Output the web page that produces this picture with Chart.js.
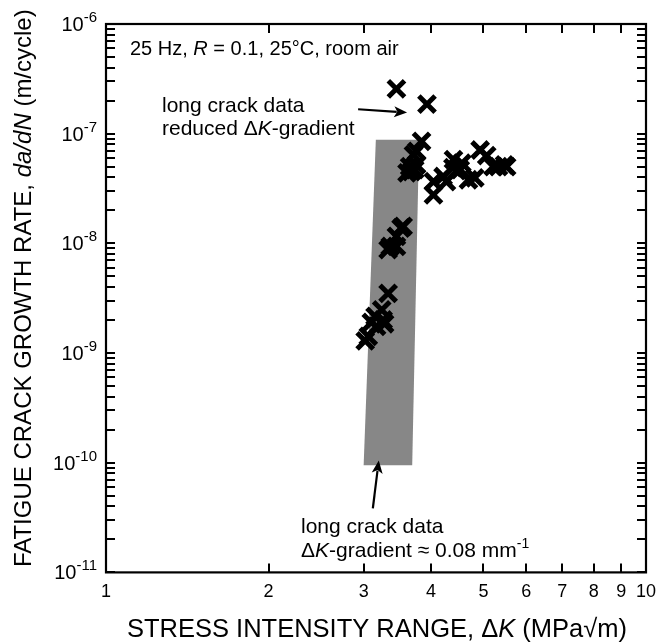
<!DOCTYPE html>
<html>
<head>
<meta charset="utf-8">
<script src="https://cdn.jsdelivr.net/npm/chart.js@4/dist/chart.umd.min.js"></script>
<style>
    html, body { margin: 0; padding: 0; background: #fff; }
    #wrap { width: 670px; height: 643px; }
</style>
</head>
<body>
<div id="wrap"><canvas id="fcgChart" width="670" height="643"></canvas></div>
<script>
// measured points: stress intensity range (MPa sqrt m) and da/dN (m/cycle)
var deltaK = [3.45, 3.93,
    3.84, 3.76, 3.71, 3.65, 3.61, 3.73, 3.76, 3.68,
    4.04, 4.04, 4.21, 4.27, 4.40, 4.46, 4.56, 4.53, 4.69, 4.82, 4.39,
    4.93, 5.07, 5.21, 5.33, 5.47, 5.52,
    3.55, 3.52, 3.45, 3.45, 3.36, 3.33,
    3.33, 3.24, 3.15, 3.26, 3.17, 3.06, 3.02, 3.10, 3.28];
var dadN = [2.56e-7, 1.86e-7,
    8.5e-8, 6.9e-8, 6.4e-8, 5.0e-8, 4.4e-8, 4.7e-8, 5.2e-8, 4.5e-8,
    3.66e-8, 2.77e-8, 4.07e-8, 3.66e-8, 5.8e-8, 4.6e-8, 5.4e-8, 4.7e-8, 3.8e-8, 3.96e-8, 4.9e-8,
    7.1e-8, 6.3e-8, 5.0e-8, 5.0e-8, 5.2e-8, 5.0e-8,
    1.43e-8, 1.38e-8, 1.16e-8, 9.4e-9, 9.4e-9, 8.75e-9,
    3.5e-9, 2.48e-9, 2.16e-9, 2.0e-9, 1.75e-9, 1.42e-9, 1.29e-9, 1.9e-9, 1.85e-9];

// grey band: long crack data, dK-gradient 0.08 /mm
var bandK = [3.0, 3.16, 3.80, 3.69, 3.0];
var bandRate = [9.5e-11, 8.8e-8, 8.8e-8, 9.5e-11, 9.5e-11];

var xTickValues = [1, 2, 3, 4, 5, 6, 7, 8, 9, 10];
var yDecades = [-11, -10, -9, -8, -7, -6];

// arrows [tail, tip] in data units
var arrowUpper = [[2.93, 1.67e-7], [3.61, 1.56e-7]];
var arrowLower = [[3.12, 3.83e-11], [3.20, 1.05e-10]];

var FONT = '"Liberation Sans", Arial, sans-serif';

function toXY(xs, ys) {
    return xs.map(function (x, i) { return {x: x, y: ys[i]}; });
}

// draw a line of text made of runs with their own font / offset
function drawRuns(ctx, x, y, runs, align) {
    var w = 0;
    runs.forEach(function (r) { ctx.font = r.f; w += ctx.measureText(r.t).width; });
    var cx = x;
    if (align === 'center') cx = x - w / 2;
    if (align === 'right') cx = x - w;
    ctx.textAlign = 'left';
    ctx.textBaseline = 'alphabetic';
    runs.forEach(function (r) {
        ctx.font = r.f;
        ctx.fillText(r.t, cx, y + (r.dy || 0));
        cx += ctx.measureText(r.t).width;
    });
}

function drawArrow(ctx, x1, y1, x2, y2) {
    var a = Math.atan2(y2 - y1, x2 - x1);
    var hl = 13, hw = 5.5;
    ctx.beginPath();
    ctx.moveTo(x1, y1);
    ctx.lineTo(x2 - Math.cos(a) * hl * 0.8, y2 - Math.sin(a) * hl * 0.8);
    ctx.lineWidth = 2.2;
    ctx.stroke();
    ctx.beginPath();
    ctx.moveTo(x2, y2);
    ctx.lineTo(x2 - Math.cos(a) * hl - Math.sin(a) * hw, y2 - Math.sin(a) * hl + Math.cos(a) * hw);
    ctx.lineTo(x2 - Math.cos(a) * hl * 0.75, y2 - Math.sin(a) * hl * 0.75);
    ctx.lineTo(x2 - Math.cos(a) * hl + Math.sin(a) * hw, y2 - Math.sin(a) * hl - Math.cos(a) * hw);
    ctx.closePath();
    ctx.fill();
}

var framePlugin = {
    id: 'frameAndText',
    afterDraw: function (chart) {
        var ctx = chart.ctx;
        var ca = chart.chartArea;
        var xs = chart.scales.x, ys = chart.scales.y;
        ctx.save();
        ctx.strokeStyle = '#000';
        ctx.fillStyle = '#000';

        // inward ticks
        ctx.lineWidth = 2;
        ctx.beginPath();
        xTickValues.slice(1, -1).forEach(function (v) {
            var px = Math.round(xs.getPixelForValue(v));
            ctx.moveTo(px, ca.bottom); ctx.lineTo(px, ca.bottom - 9);
            ctx.moveTo(px, ca.top); ctx.lineTo(px, ca.top + 9);
        });
        yDecades.slice(0, -1).forEach(function (d) {
            for (var m = 1; m <= 9; m++) {
                var py = Math.round(ys.getPixelForValue(m * Math.pow(10, d)));
                ctx.moveTo(ca.left, py); ctx.lineTo(ca.left + 9, py);
                ctx.moveTo(ca.right, py); ctx.lineTo(ca.right - 9, py);
            }
        });
        ctx.stroke();

        // frame
        ctx.lineWidth = 2.2;
        ctx.strokeRect(ca.left, ca.top, ca.right - ca.left, ca.bottom - ca.top);

        // y tick labels 10^n
        yDecades.forEach(function (d) {
            var py = ys.getPixelForValue(Math.pow(10, d));
            drawRuns(ctx, ca.left - 9, py + 7, [
                {t: '10', f: '20px ' + FONT},
                {t: '-' + Math.abs(d), f: '15px ' + FONT, dy: -9}
            ], 'right');
        });

        // axis titles
        drawRuns(ctx, (ca.left + ca.right) / 2 + 1, 637, [
            {t: 'STRESS INTENSITY RANGE, \u0394', f: '25.5px ' + FONT},
            {t: 'K', f: 'italic 25.5px ' + FONT},
            {t: ' (MPa\u221Am)', f: '25.5px ' + FONT}
        ], 'center');
        ctx.save();
        ctx.translate(31, (ca.top + ca.bottom) / 2 - 10);
        ctx.rotate(-Math.PI / 2);
        drawRuns(ctx, 0, 0, [
            {t: 'FATIGUE CRACK GROWTH RATE, ', f: '24px ' + FONT},
            {t: 'da/dN', f: 'italic 24px ' + FONT},
            {t: ' (m/cycle)', f: '24px ' + FONT}
        ], 'center');
        ctx.restore();

        // annotations
        drawRuns(ctx, 130, 55, [
            {t: '25 Hz, ', f: '20px ' + FONT},
            {t: 'R', f: 'italic 20px ' + FONT},
            {t: ' = 0.1, 25\u00B0C, room air', f: '20px ' + FONT}
        ]);
        drawRuns(ctx, 162, 112, [{t: 'long crack data', f: '21px ' + FONT}]);
        drawRuns(ctx, 162, 135, [
            {t: 'reduced \u0394', f: '21px ' + FONT},
            {t: 'K', f: 'italic 21px ' + FONT},
            {t: '-gradient', f: '21px ' + FONT}
        ]);
        drawRuns(ctx, 301, 533, [{t: 'long crack data', f: '21px ' + FONT}]);
        drawRuns(ctx, 301, 557, [
            {t: '\u0394', f: '21px ' + FONT},
            {t: 'K', f: 'italic 21px ' + FONT},
            {t: '-gradient \u2248 0.08 mm', f: '21px ' + FONT},
            {t: '-1', f: '14px ' + FONT, dy: -9}
        ]);

        [arrowUpper, arrowLower].forEach(function (ar) {
            drawArrow(ctx,
                xs.getPixelForValue(ar[0][0]), ys.getPixelForValue(ar[0][1]),
                xs.getPixelForValue(ar[1][0]), ys.getPixelForValue(ar[1][1]));
        });
        ctx.restore();
    }
};

var oChart = new Chart(document.getElementById('fcgChart'), {
    type: 'scatter',
    data: {
        datasets: [{
            label: 'long crack',
            data: toXY(bandK, bandRate),
            showLine: true,
            fill: 'shape',
            backgroundColor: '#878787',
            borderWidth: 0,
            pointRadius: 0,
            order: 2
        }, {
            label: 'small crack',
            data: toXY(deltaK, dadN),
            pointStyle: 'crossRot',
            pointRadius: 11.5,
            pointBorderWidth: 5,
            borderColor: '#000',
            backgroundColor: '#000',
            order: 1
        }]
    },
    options: {
        responsive: false,
        animation: false,
        devicePixelRatio: 1,
        layout: {padding: {left: 106, right: 24, top: 24, bottom: 31}},
        plugins: {legend: {display: false}, tooltip: {enabled: false}},
        scales: {
            x: {
                type: 'logarithmic',
                min: 1,
                max: 10,
                afterBuildTicks: function (s) {
                    s.ticks = xTickValues.map(function (v) { return {value: v}; });
                },
                grid: {display: false, drawTicks: false},
                border: {display: false},
                ticks: {
                    color: '#000',
                    padding: 9,
                    autoSkip: false,
                    maxRotation: 0,
                    font: {family: FONT, size: 18},
                    callback: function (v) { return String(v); }
                }
            },
            y: {
                type: 'logarithmic',
                min: 1e-11,
                max: 1e-6,
                grid: {display: false, drawTicks: false},
                border: {display: false},
                ticks: {display: false}
            }
        }
    },
    plugins: [framePlugin]
});
</script>
</body>
</html>
